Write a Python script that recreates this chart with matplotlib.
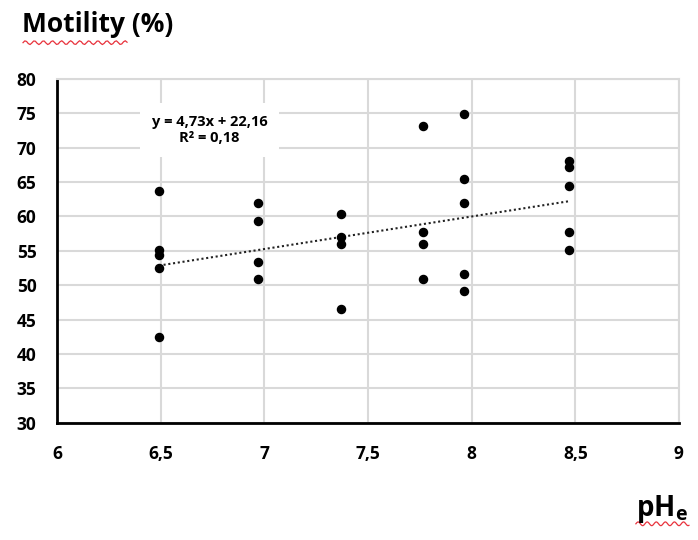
import numpy as np
import matplotlib
matplotlib.use("Agg")
import matplotlib.pyplot as plt
from matplotlib.ticker import FuncFormatter, MultipleLocator

# data
ph = [6.49, 6.49, 6.49, 6.49, 6.49,
      6.97, 6.97, 6.97, 6.97,
      7.37, 7.37, 7.37, 7.37,
      7.765, 7.765, 7.765, 7.765,
      7.963, 7.963, 7.963, 7.963, 7.963,
      8.47, 8.47, 8.47, 8.47, 8.47]
motility = [63.7, 55.1, 54.35, 52.55, 42.4,
            62.0, 59.4, 53.4, 50.9,
            60.3, 57.0, 56.0, 46.6,
            73.1, 57.7, 56.0, 50.9,
            74.9, 65.45, 62.0, 51.7, 49.2,
            68.0, 67.2, 64.5, 57.7, 55.1]
slope = 4.73
intercept = 22.16
r2 = 0.18

plt.rcParams['font.family'] = ['Open Sans', 'DejaVu Sans']
plt.rcParams['font.weight'] = 'bold'
plt.rcParams['mathtext.fontset'] = 'custom'
plt.rcParams['mathtext.bf'] = 'Open Sans:bold'
plt.rcParams['mathtext.rm'] = 'Open Sans:bold'

fig = plt.figure(figsize=(6.98, 5.40), dpi=100)
ax = fig.add_axes([0.0821, 0.2172, 0.8905, 0.6365])

# grid
ax.set_xlim(6, 9)
ax.set_ylim(30, 80)
ax.xaxis.set_major_locator(MultipleLocator(0.5))
ax.yaxis.set_major_locator(MultipleLocator(5))
ax.grid(True, color='#d9d9d9', linewidth=1.5)
ax.set_axisbelow(True)

# trend line over the data range
xt = np.array([min(ph), max(ph)])
ax.plot(xt, slope * xt + intercept, color='#222222', linestyle=(0, (1, 1.3)),
        linewidth=1.5, zorder=2)

ax.scatter(ph, motility, s=34, color='black', zorder=3)

fmt = FuncFormatter(lambda v, p: ('%g' % v).replace('.', ','))
ax.xaxis.set_major_formatter(fmt)
ax.yaxis.set_major_formatter(fmt)
ax.tick_params(length=0, labelsize=12.5, pad=15)
ax.tick_params(axis='x', pad=16)
for lab in ax.get_xticklabels() + ax.get_yticklabels():
    lab.set_fontweight('bold')

for side in ['top', 'right']:
    ax.spines[side].set_color('#d9d9d9')
    ax.spines[side].set_linewidth(1.5)
for side in ['left', 'bottom']:
    ax.spines[side].set_color('black')
    ax.spines[side].set_linewidth(2)

# equation label
eq = ('y = %.2fx + %.2f' % (slope, intercept)).replace('.', ',')
rr = ('R² = %.2f' % r2).replace('.', ',')
ax.text(6.735, 72.6, eq + '\n' + rr, ha='center', va='center', fontsize=10.5,
        fontweight='bold', linespacing=1.2, zorder=4,
        bbox=dict(boxstyle='square,pad=0.8', facecolor='white', edgecolor='none'))

fig.text(0.032, 0.94, 'Motility (%)', fontsize=19, fontweight='bold',
         ha='left', va='baseline')
fig.text(0.911, 0.045, r'pH$_\mathbf{e}$', fontsize=20, fontweight='bold',
         ha='left', va='baseline')

# red spell-check squiggles
def squiggle(x0, x1, y0):
    xs = np.linspace(x0, x1, 60)
    ys = y0 + 0.0035 * np.sin((xs - x0) / 0.0065 * np.pi)
    fig.add_artist(plt.Line2D(xs, ys, color='#e8323c', linewidth=0.9,
                              transform=fig.transFigure))

squiggle(0.033, 0.182, 0.921)
squiggle(0.911, 0.987, 0.030)

fig.savefig('out.png', dpi=100)
